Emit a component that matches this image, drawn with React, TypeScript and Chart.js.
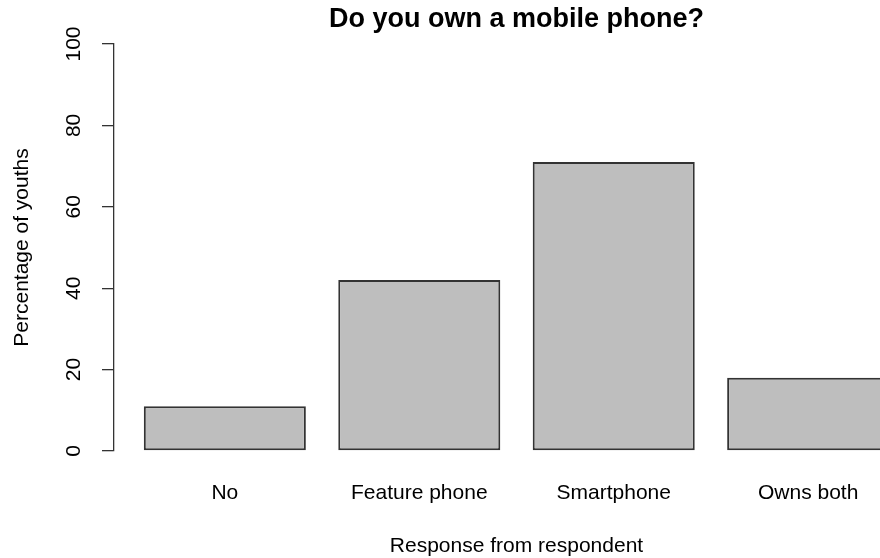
import React, { useEffect, useRef } from "react";
import { Chart, registerables } from "chart.js";

Chart.register(...registerables);

const categories = ["No", "Feature phone", "Smartphone", "Owns both"];
const percentages = [11, 42, 71, 18];
const yTicks = [0, 20, 40, 60, 80, 100];
const titleText = "Do you own a mobile phone?";
const xTitle = "Response from respondent";
const yTitle = "Percentage of youths";

// R barplot layout: bar width 1, space 0.2
const barWidth = 1;
const barSpace = 0.2;

export default function App() {
  const ref = useRef<HTMLCanvasElement>(null);
  useEffect(() => {
    if (!ref.current) return;
    const centers = categories.map((_, i) => barSpace + barWidth / 2 + i * (barWidth + barSpace));
    const lo = barSpace;
    const hi = categories.length * (barWidth + barSpace);
    const ext = (hi - lo) * 0.04;
    const font = "'Liberation Sans', Arial, sans-serif";
    const chart = new Chart(ref.current, {
      type: "bar",
      data: {
        datasets: [
          {
            data: categories.map((_, i) => ({ x: centers[i], y: percentages[i] })),
            backgroundColor: "#bebebe",
            borderColor: "#333",
            borderWidth: 2,
            borderSkipped: false,
            barPercentage: 1,
            categoryPercentage: barWidth / (barWidth + barSpace),
          },
        ],
      },
      options: {
        animation: false,
        responsive: false,
        layout: { padding: { left: 0, right: 11, top: 0, bottom: 0 } },
        plugins: {
          legend: { display: false },
          tooltip: { enabled: false },
          title: {
            display: true,
            text: titleText,
            fullSize: false,
            color: "#000",
            font: { family: font, size: 27, weight: "bold" },
            padding: { top: 3, bottom: 8.6 },
          },
        },
        scales: {
          x: {
            type: "linear",
            offset: false,
            min: lo - ext,
            max: hi + ext,
            grid: { display: false },
            border: { display: false },
            afterBuildTicks: (scale: any) => {
              scale.ticks = centers.map((v) => ({ value: v }));
            },
            afterFit: (scale: any) => {
              scale.height = 107;
            },
            ticks: {
              autoSkip: false,
              maxRotation: 0,
              minRotation: 0,
              padding: 22,
              color: "#000",
              font: { family: font, size: 21 },
              callback: (_v: any, i: number) => categories[i],
            },
            title: {
              display: true,
              text: xTitle,
              color: "#000",
              font: { family: font, size: 21 },
              padding: { top: 0, bottom: -1 },
            },
          },
          y: {
            min: 0,
            max: 100,
            afterBuildTicks: (scale: any) => {
              scale.ticks = yTicks.map((v) => ({ value: v }));
            },
            afterFit: (scale: any) => {
              scale.width = 114;
            },
            grid: {
              display: true,
              drawOnChartArea: false,
              drawTicks: true,
              tickLength: 12,
              color: "#333",
              lineWidth: 1.3,
            },
            border: { display: true, color: "#333", width: 1.3 },
            ticks: {
              minRotation: 90,
              maxRotation: 90,
              crossAlign: "center",
              padding: 10,
              color: "#000",
              font: { family: font, size: 21 },
            },
            title: {
              display: true,
              text: yTitle,
              color: "#000",
              font: { family: font, size: 21 },
              padding: { top: 10, bottom: 0 },
            },
          },
        },
      },
    });
    return () => chart.destroy();
  }, []);
  return (
    <div
      style={{
        position: "fixed",
        left: 0,
        top: 0,
        width: 880,
        height: 558,
        overflow: "hidden",
        background: "#fff",
      }}
    >
      <canvas ref={ref} width={930} height={558} style={{ display: "block" }} />
    </div>
  );
}
